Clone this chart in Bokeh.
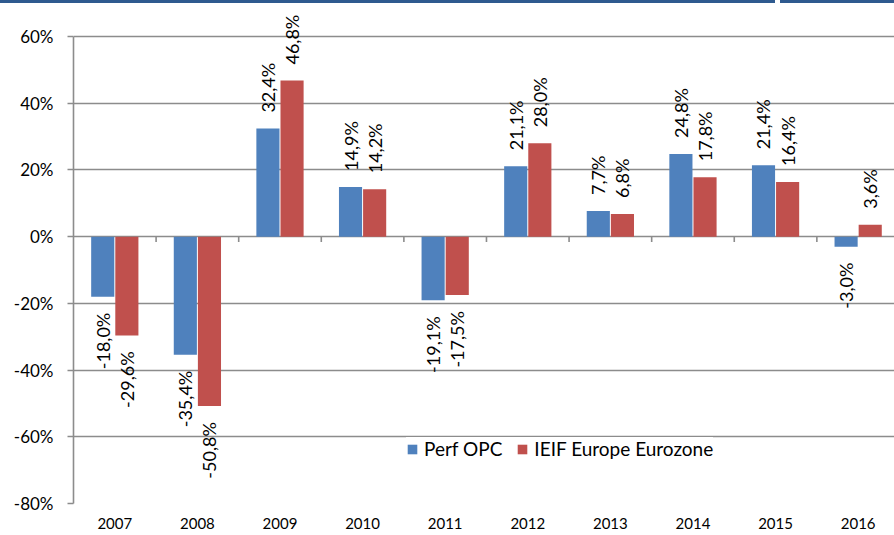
import numpy as np
from bokeh.plotting import figure
from bokeh.models import (ColumnDataSource, Range1d, LabelSet, Legend, LegendItem,
                          PrintfTickFormatter, FixedTicker)
from bokeh.core.properties import value
from bokeh.embed import file_html
from bokeh.resources import INLINE

years = ["2007", "2008", "2009", "2010", "2011", "2012", "2013", "2014", "2015", "2016"]
perf_opc = [-18.0, -35.4, 32.4, 14.9, -19.1, 21.1, 7.7, 24.8, 21.4, -3.0]
ieif = [-29.6, -50.8, 46.8, 14.2, -17.5, 28.0, 6.8, 17.8, 16.4, 3.6]
y_ticks = [-80, -60, -40, -20, 0, 20, 40, 60]
series_names = ["Perf OPC", "IEIF Europe Eurozone"]

BLUE = "#4F81BD"
RED = "#C0504D"
GRID = "#8C8C8C"
BAND = "#2F5A8F"
FONT = "Lato"

xc = np.arange(len(years)) + 0.5
BW = 0.28
OFF = 0.146

# frame spans the whole top of the canvas so rotated labels above 60% are not clipped
p = figure(width=894, height=532, output_backend="svg", toolbar_location=None,
           x_range=Range1d(0, 9.94), y_range=Range1d(-80, 69.9),
           min_border_left=73, min_border_right=0, min_border_top=0, min_border_bottom=32)
p.outline_line_color = None
p.background_fill_color = "white"
p.border_fill_color = "white"
# decorative slide band along the top edge (with a small gap on the right)
p.styles = {
    "border-top": f"3px solid {BAND}",
    "border-image": f"linear-gradient(to right, {BAND} 774px, white 774px, white 779px, {BAND} 779px) 1",
}

# grid
p.xgrid.visible = False
p.ygrid.ticker = FixedTicker(ticks=y_ticks)
p.ygrid.grid_line_color = GRID
p.ygrid.grid_line_width = 1.6

# y axis
p.yaxis.ticker = FixedTicker(ticks=y_ticks)
p.yaxis.bounds = (min(y_ticks), max(y_ticks))
p.yaxis.formatter = PrintfTickFormatter(format="%d%%")
p.yaxis.axis_line_color = GRID
p.yaxis.axis_line_width = 1.6
p.yaxis.major_tick_line_color = GRID
p.yaxis.major_tick_line_width = 1.6
p.yaxis.major_tick_out = 6
p.yaxis.major_tick_in = 0
p.yaxis.minor_tick_line_color = None
p.yaxis.major_label_standoff = 14
p.yaxis.major_label_text_font = FONT
p.yaxis.major_label_text_font_size = "17px"
p.yaxis.major_label_text_color = "black"

# x axis (labels only)
p.xaxis.ticker = FixedTicker(ticks=list(xc))
p.xaxis.major_label_overrides = {float(x): y for x, y in zip(xc, years)}
p.xaxis.axis_line_color = None
p.xaxis.major_tick_line_color = None
p.xaxis.minor_tick_line_color = None
p.xaxis.major_label_standoff = 8
p.xaxis.major_label_text_font = FONT
p.xaxis.major_label_text_font_size = "15px"
p.xaxis.major_label_text_color = "black"

# category boundary ticks on the 0% line
bounds = np.arange(1, len(years))
p.segment(x0=bounds, y0=0, x1=bounds, y1=-1.6, line_color=GRID, line_width=1.6)

r1 = p.vbar(x=xc - OFF, top=perf_opc, bottom=0, width=BW, fill_color=BLUE, line_color=None)
r2 = p.vbar(x=xc + OFF, top=ieif, bottom=0, width=BW, fill_color=RED, line_color=None)

def fmt(v):
    return f"{v:.1f}".replace(".", ",") + "%"

for vals, off in ((perf_opc, -OFF), (ieif, OFF)):
    pos = [(x + off, v, fmt(v)) for x, v in zip(xc, vals) if v >= 0]
    neg = [(x + off, v, fmt(v)) for x, v in zip(xc, vals) if v < 0]
    for items, align, yoff in ((pos, "left", 16), (neg, "right", -16)):
        if not items:
            continue
        s = ColumnDataSource(dict(x=[i[0] for i in items], y=[i[1] for i in items],
                                  t=[i[2] for i in items]))
        p.add_layout(LabelSet(x="x", y="y", text="t", source=s, angle=90, angle_units="deg",
                              text_align=align, text_baseline="middle", y_offset=yoff,
                              text_font=value(FONT), text_font_size="18px",
                              text_color="black"))

legend = Legend(items=[LegendItem(label=series_names[0], renderers=[r1]),
                       LegendItem(label=series_names[1], renderers=[r2])],
                orientation="horizontal", location=(333, 43))
legend.margin = 0
legend.padding = 15
legend.spacing = 14
legend.label_standoff = 6
legend.glyph_width = 12
legend.glyph_height = 12
legend.label_text_font = FONT
legend.label_text_font_size = "19px"
legend.label_text_color = "black"
legend.background_fill_color = "white"
legend.background_fill_alpha = 1
legend.border_line_color = None
p.add_layout(legend)

open("out.html", "w").write(file_html(p, INLINE))
